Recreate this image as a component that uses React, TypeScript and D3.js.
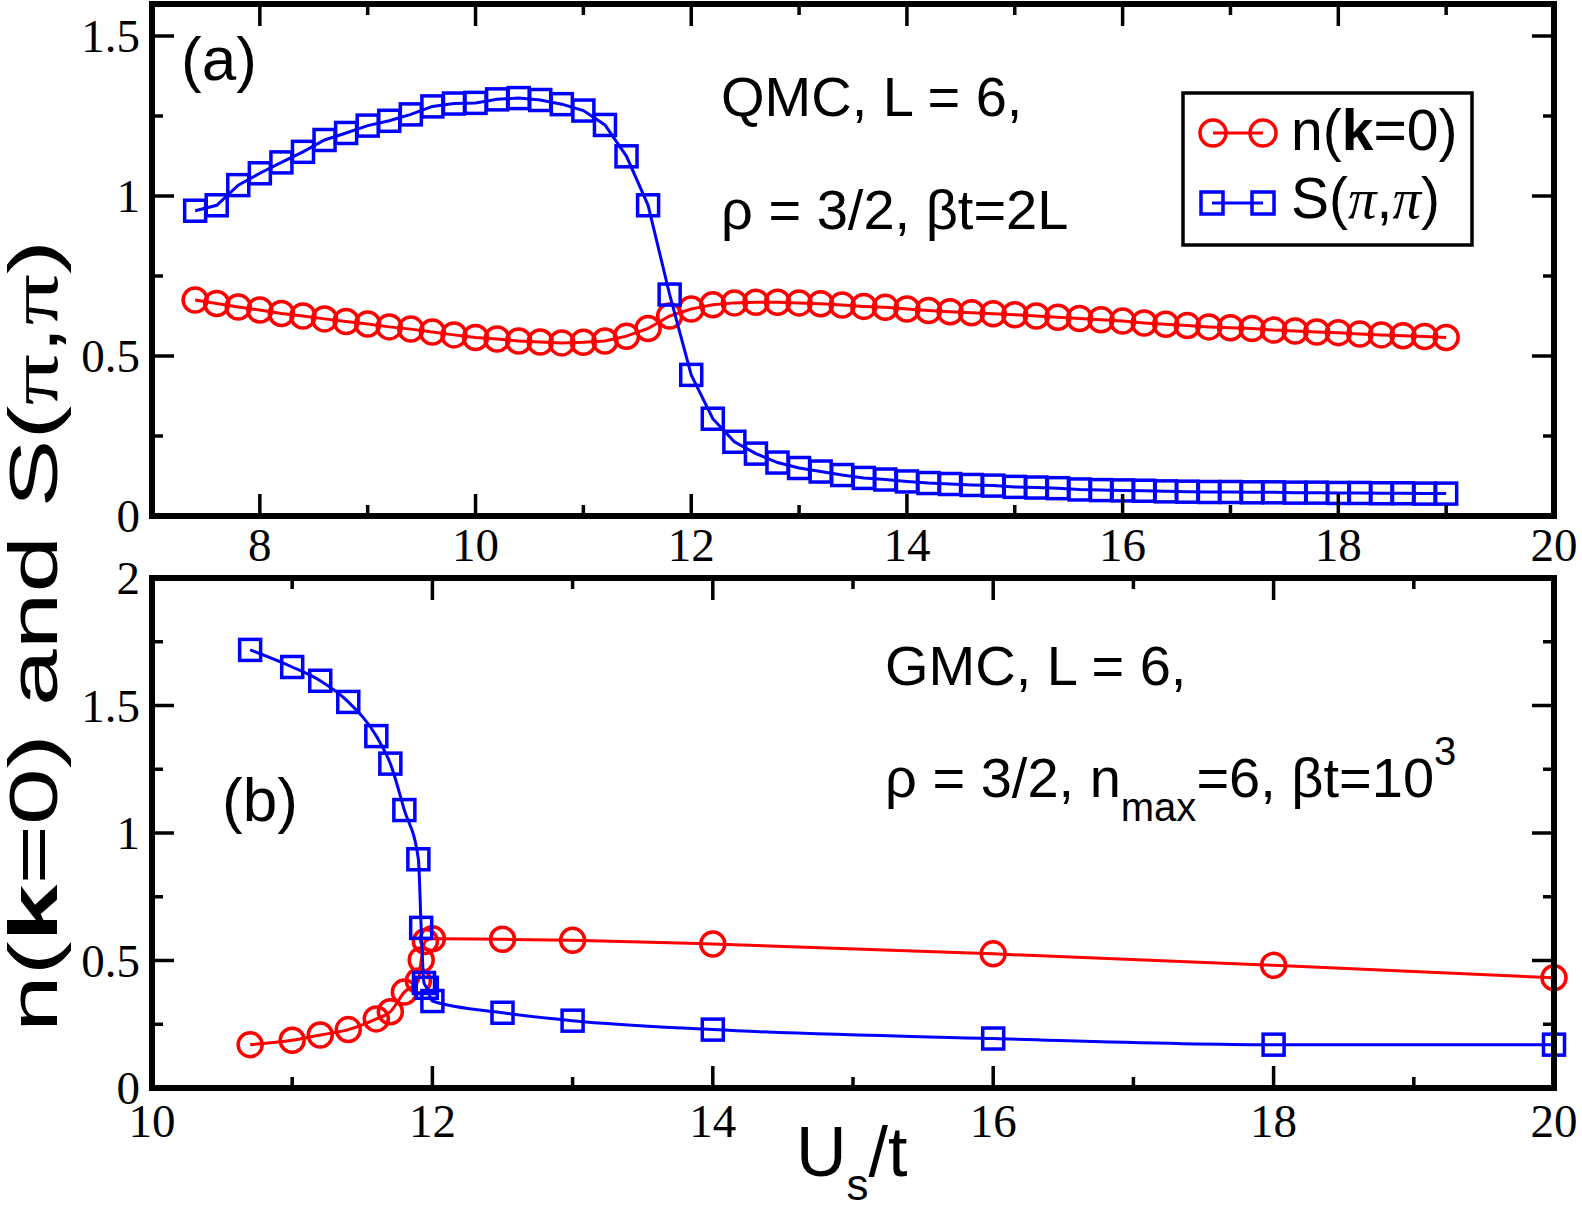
import React from "react";
import * as d3 from "d3";

// panel (a) : QMC, L = 6
const qmcU = [
  7.4, 7.6, 7.8, 8.0, 8.2, 8.4, 8.6, 8.8, 9.0, 9.2, 9.4, 9.6, 9.8,
  10.0, 10.2, 10.4, 10.6, 10.8, 11.0, 11.2, 11.4, 11.6, 11.8,
  12.0, 12.2, 12.4, 12.6, 12.8, 13.0, 13.2, 13.4, 13.6, 13.8,
  14.0, 14.2, 14.4, 14.6, 14.8, 15.0, 15.2, 15.4, 15.6, 15.8,
  16.0, 16.2, 16.4, 16.6, 16.8, 17.0, 17.2, 17.4, 17.6, 17.8,
  18.0, 18.2, 18.4, 18.6, 18.8, 19.0,
];
const qmcN = [
  0.675, 0.664, 0.653, 0.644, 0.633, 0.625, 0.616, 0.608, 0.600, 0.591, 0.584, 0.575, 0.566,
  0.558, 0.553, 0.547, 0.544, 0.541, 0.543, 0.547, 0.562, 0.586, 0.625,
  0.647, 0.660, 0.666, 0.668, 0.668, 0.666, 0.663, 0.659, 0.655, 0.652,
  0.647, 0.642, 0.638, 0.635, 0.632, 0.629, 0.625, 0.621, 0.617, 0.613,
  0.609, 0.603, 0.599, 0.595, 0.591, 0.588, 0.586, 0.581, 0.578, 0.575,
  0.573, 0.569, 0.566, 0.563, 0.561, 0.558,
];
const qmcS = [
  0.954, 0.971, 1.034, 1.071, 1.105, 1.138, 1.175, 1.197, 1.220, 1.235, 1.255, 1.280, 1.289,
  1.291, 1.302, 1.306, 1.300, 1.287, 1.267, 1.222, 1.124, 0.971, 0.692,
  0.441, 0.304, 0.232, 0.195, 0.167, 0.150, 0.139, 0.128, 0.119, 0.114,
  0.108, 0.103, 0.100, 0.097, 0.095, 0.091, 0.089, 0.087, 0.083, 0.081,
  0.080, 0.079, 0.077, 0.076, 0.075, 0.075, 0.074, 0.074, 0.073, 0.073,
  0.072, 0.072, 0.071, 0.071, 0.070, 0.070,
];

// panel (b) : GMC, L = 6
const gmcUn = [10.7, 11.0, 11.2, 11.4, 11.6, 11.7, 11.8, 11.9, 11.92, 11.95, 12.0, 12.5, 13, 14, 16, 18, 20];
const gmcN = [0.170, 0.187, 0.208, 0.229, 0.271, 0.299, 0.376, 0.42, 0.502, 0.575, 0.585, 0.583, 0.579, 0.565, 0.526, 0.481, 0.432];
const gmcUs = [10.7, 11.0, 11.2, 11.4, 11.6, 11.7, 11.8, 11.9, 11.92, 11.94, 11.96, 12.0, 12.5, 13, 14, 16, 18, 20];
const gmcS = [1.718, 1.651, 1.597, 1.514, 1.380, 1.272, 1.090, 0.897, 0.628, 0.412, 0.393, 0.341, 0.295, 0.264, 0.229, 0.194, 0.170, 0.170];

// ticks
const topXMajor = [8, 10, 12, 14, 16, 18, 20];
const topXMinor = [9, 11, 13, 15, 17, 19];
const topYMajor = [0, 0.5, 1, 1.5];
const topYMinor = [0.25, 0.75, 1.25];
const botXMajor = [10, 12, 14, 16, 18, 20];
const botXMinor = [11, 13, 15, 17, 19];
const botYMajor = [0, 0.5, 1, 1.5, 2];
const botYMinor = [0.25, 0.75, 1.25, 1.75];

const RED = "#ff0000";
const BLUE = "#0000ff";
const SANS = "'Liberation Sans', Arial, Helvetica, sans-serif";
const SERIF = "'Liberation Serif', 'Times New Roman', serif";

type Series = { xs: number[]; ys: number[]; color: string; marker: "circle" | "square"; r: number };

function Panel(props: {
  x0: number; x1: number; y0: number; y1: number;
  xDomain: [number, number]; yDomain: [number, number];
  xMajor: number[]; xMinor: number[]; yMajor: number[]; yMinor: number[];
  series: Series[]; curve: d3.CurveFactory; labelY: number;
}) {
  const { x0, x1, y0, y1 } = props;
  const x = d3.scaleLinear().domain(props.xDomain).range([x0, x1]);
  const y = d3.scaleLinear().domain(props.yDomain).range([y1, y0]);
  const big = 22, small = 11;

  return (
    <g>
      {props.series.map((s, i) => {
        const pts = s.xs.map((u, k) => [u, s.ys[k]] as [number, number]);
        const line = d3.line<[number, number]>()
          .x(d => x(d[0])).y(d => y(d[1])).curve(props.curve);
        return (
          <g key={i}>
            <path d={line(pts) || ""} fill="none" stroke={s.color} strokeWidth={3} />
            {pts.map((d, k) => s.marker === "circle"
              ? <circle key={k} cx={x(d[0])} cy={y(d[1])} r={s.r} fill="none" stroke={s.color} strokeWidth={3.5} />
              : <rect key={k} x={x(d[0]) - s.r} y={y(d[1]) - s.r} width={2 * s.r} height={2 * s.r} fill="none" stroke={s.color} strokeWidth={3.5} />
            )}
          </g>
        );
      })}

      <g stroke="#000" strokeWidth={3.5}>
        {props.xMajor.map(v => (
          <g key={"xM" + v}>
            <line x1={x(v)} x2={x(v)} y1={y1} y2={y1 - big} />
            <line x1={x(v)} x2={x(v)} y1={y0} y2={y0 + big} />
          </g>
        ))}
        {props.xMinor.map(v => (
          <g key={"xm" + v}>
            <line x1={x(v)} x2={x(v)} y1={y1} y2={y1 - small} />
            <line x1={x(v)} x2={x(v)} y1={y0} y2={y0 + small} />
          </g>
        ))}
        {props.yMajor.map(v => (
          <g key={"yM" + v}>
            <line x1={x0} x2={x0 + big} y1={y(v)} y2={y(v)} />
            <line x1={x1} x2={x1 - big} y1={y(v)} y2={y(v)} />
          </g>
        ))}
        {props.yMinor.map(v => (
          <g key={"ym" + v}>
            <line x1={x0} x2={x0 + small} y1={y(v)} y2={y(v)} />
            <line x1={x1} x2={x1 - small} y1={y(v)} y2={y(v)} />
          </g>
        ))}
      </g>
      <rect x={x0} y={y0} width={x1 - x0} height={y1 - y0} fill="none" stroke="#000" strokeWidth={6} />

      <g fontFamily={SERIF} fontSize={47} fill="#000">
        {props.xMajor.map(v => (
          <text key={"xl" + v} x={x(v)} y={props.labelY} textAnchor="middle">{String(v)}</text>
        ))}
        {props.yMajor.map(v => (
          <text key={"yl" + v} x={140} y={y(v) + 16} textAnchor="end">{String(v)}</text>
        ))}
      </g>
    </g>
  );
}

export default function App() {
  return (
    <svg width={1582} height={1209} style={{ position: "absolute", left: 0, top: 0, background: "#fff" }}>
      <rect width={1582} height={1209} fill="#fff" />

      <Panel x0={152} x1={1554} y0={4} y1={516}
        xDomain={[7, 20]} yDomain={[0, 1.6]}
        xMajor={topXMajor} xMinor={topXMinor} yMajor={topYMajor} yMinor={topYMinor}
        curve={d3.curveLinear} labelY={561}
        series={[
          { xs: qmcU, ys: qmcN, color: RED, marker: "circle", r: 12 },
          { xs: qmcU, ys: qmcS, color: BLUE, marker: "square", r: 10.5 },
        ]} />

      <Panel x0={152} x1={1554} y0={578} y1={1088}
        xDomain={[10, 20]} yDomain={[0, 2]}
        xMajor={botXMajor} xMinor={botXMinor} yMajor={botYMajor} yMinor={botYMinor}
        curve={d3.curveMonotoneX} labelY={1137}
        series={[
          { xs: gmcUn, ys: gmcN, color: RED, marker: "circle", r: 12 },
          { xs: gmcUs, ys: gmcS, color: BLUE, marker: "square", r: 10.5 },
        ]} />

      {/* annotations */}
      <g fontFamily={SANS} fill="#000">
        <text x={181} y={80} fontSize={62}>(a)</text>
        <text x={721} y={116} fontSize={56}>QMC, L = 6,</text>
        <text x={721} y={229} fontSize={56}>ρ = 3/2, βt=2L</text>

        <text x={222} y={821} fontSize={62}>(b)</text>
        <text x={885} y={685} fontSize={56}>GMC, L = 6,</text>
        <text x={885} y={797} fontSize={56}>
          ρ = 3/2, n<tspan fontSize={40} dy={24}>max</tspan><tspan dy={-24}>=6, βt=10</tspan><tspan fontSize={40} dy={-32}>3</tspan>
        </text>

        {/* axis titles */}
        <text x={796} y={1176} fontSize={70}>
          U<tspan fontSize={44} dy={24}>s</tspan><tspan dy={-24}>/t</tspan>
        </text>
        <text transform="translate(57, 636) rotate(-90) scale(1.5, 1)" x={0} y={0} fontSize={68} textAnchor="middle">
          n(<tspan fontWeight="bold">k</tspan>=0) and S(<tspan fontFamily={SERIF}>π</tspan>,<tspan fontFamily={SERIF}>π</tspan>)
        </text>
      </g>

      {/* legend */}
      <g>
        <rect x={1183} y={93} width={289} height={152} fill="#fff" stroke="#000" strokeWidth={3.5} />
        <line x1={1213} x2={1263} y1={133} y2={133} stroke={RED} strokeWidth={3} />
        <circle cx={1213} cy={133} r={13} fill="none" stroke={RED} strokeWidth={3.5} />
        <circle cx={1263} cy={133} r={13} fill="none" stroke={RED} strokeWidth={3.5} />
        <line x1={1212} x2={1263} y1={203} y2={203} stroke={BLUE} strokeWidth={3} />
        <rect x={1212 - 11} y={203 - 11} width={22} height={22} fill="none" stroke={BLUE} strokeWidth={3.5} />
        <rect x={1263 - 11} y={203 - 11} width={22} height={22} fill="none" stroke={BLUE} strokeWidth={3.5} />
        <text x={1291} y={150} fontFamily={SANS} fontSize={57}>
          n(<tspan fontWeight="bold">k</tspan>=0)
        </text>
        <text x={1291} y={218} fontFamily={SANS} fontSize={57}>
          S(<tspan fontFamily={SERIF} fontStyle="italic">π</tspan>,<tspan fontFamily={SERIF} fontStyle="italic">π</tspan>)
        </text>
      </g>
    </svg>
  );
}
